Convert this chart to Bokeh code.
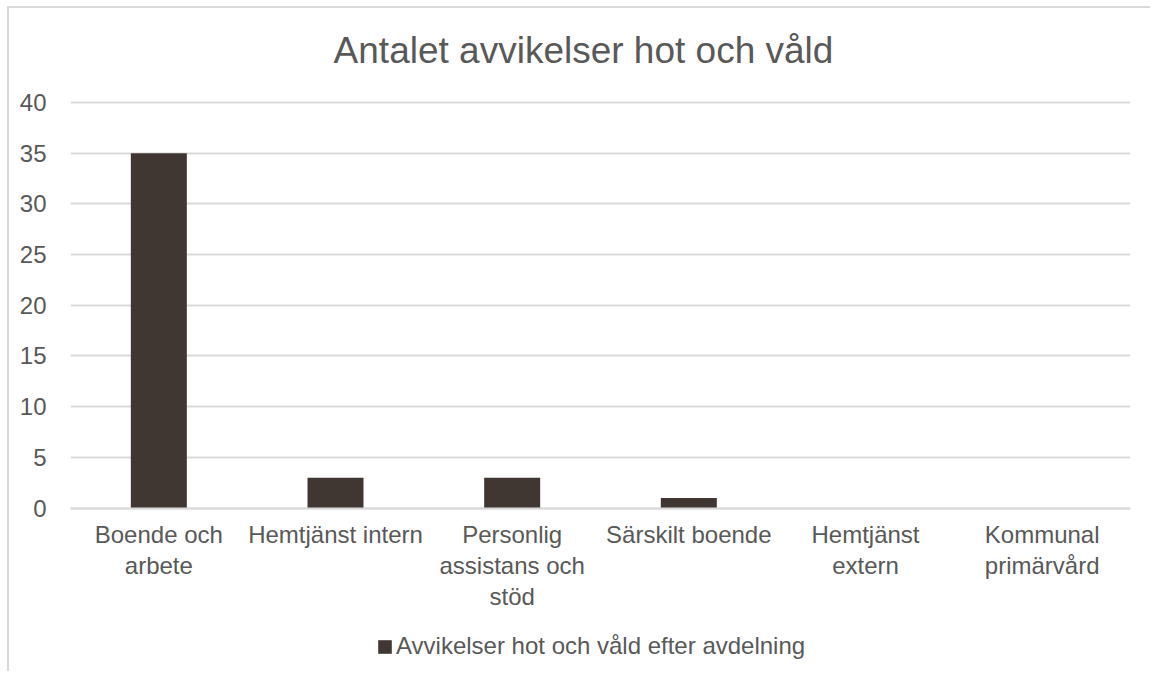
from bokeh.plotting import figure
from bokeh.models import Legend, LegendItem, FactorRange, Range1d, FixedTicker, Spacer, Label
from bokeh.layouts import row, column
from bokeh.embed import file_html
from bokeh.resources import INLINE

categories = ["Boende och\narbete", "Hemtjänst intern", "Personlig\nassistans och\nstöd",
              "Särskilt boende", "Hemtjänst\nextern", "Kommunal\nprimärvård"]
values = [35, 3, 3, 1, 0, 0]
y_ticks = [0, 5, 10, 15, 20, 25, 30, 35, 40]
series_name = "Avvikelser hot och våld efter avdelning"
title_text = "Antalet avvikelser hot och våld"

FONT = "Liberation Sans"
TXT = "#595959"
GRID = "#d9d9d9"
BAR = "#403733"

# layout (pixels)
FIG_W, FIG_H = 1143, 665
BORDER_L, BORDER_R, BORDER_B = 61, 22, 4
PX_ABOVE_MAX = 94      # frame top to the 40 gridline
PX_BELOW_ZERO = 161.5  # zero line to frame bottom
PX_PER_UNIT = 406 / 40
y_max = max(y_ticks)
y_start = -PX_BELOW_ZERO / PX_PER_UNIT
y_end = y_max + PX_ABOVE_MAX / PX_PER_UNIT

p = figure(width=FIG_W, height=FIG_H, x_range=FactorRange(*categories, range_padding=0),
           y_range=Range1d(y_start, y_end), output_backend="svg", toolbar_location=None,
           min_border_left=BORDER_L, min_border_right=BORDER_R, min_border_top=0,
           min_border_bottom=BORDER_B)
p.styles = {"border-left": "2px solid #d9d9d9", "border-top": "2px solid #d9d9d9"}
p.outline_line_color = None
p.title.text = ""

r = p.vbar(x=categories, top=values, width=0.317, fill_color=BAR, line_color=None)

title = Label(text=title_text, x=513, y=619, x_units="screen", y_units="screen",
              text_align="center", text_baseline="alphabetic",
              text_font=FONT, text_font_size="37px", text_color=TXT)
p.add_layout(title)

p.yaxis.ticker = FixedTicker(ticks=y_ticks)
p.yaxis.axis_line_color = None
p.yaxis.major_tick_line_color = None
p.yaxis.minor_tick_line_color = None
p.yaxis.major_label_text_font = FONT
p.yaxis.major_label_text_font_size = "24px"
p.yaxis.major_label_text_color = TXT
p.yaxis.major_label_standoff = 18

p.xaxis.fixed_location = 0
p.xaxis.axis_line_color = GRID
p.xaxis.axis_line_width = 2
p.xaxis.major_tick_line_color = None
p.xaxis.minor_tick_line_color = None
p.xaxis.major_label_text_font = FONT
p.xaxis.major_label_text_font_size = "24px"
p.xaxis.major_label_text_color = TXT
p.xaxis.major_label_text_line_height = 1.15
p.xaxis.major_label_standoff = 7

p.xgrid.grid_line_color = None
p.ygrid.grid_line_color = GRID
p.ygrid.grid_line_width = 2
p.ygrid.ticker = FixedTicker(ticks=y_ticks)

legend = Legend(items=[LegendItem(label=series_name, renderers=[r])],
                location=(306, 9), orientation="horizontal",
                glyph_width=17, glyph_height=17, label_standoff=3,
                padding=0, margin=0, border_line_color=None, background_fill_alpha=0,
                label_text_font=FONT, label_text_font_size="24px", label_text_color=TXT)
p.add_layout(legend, "center")

layout = column(Spacer(height=6), row(Spacer(width=7), p))
open("out.html", "w").write(file_html(layout, INLINE))
